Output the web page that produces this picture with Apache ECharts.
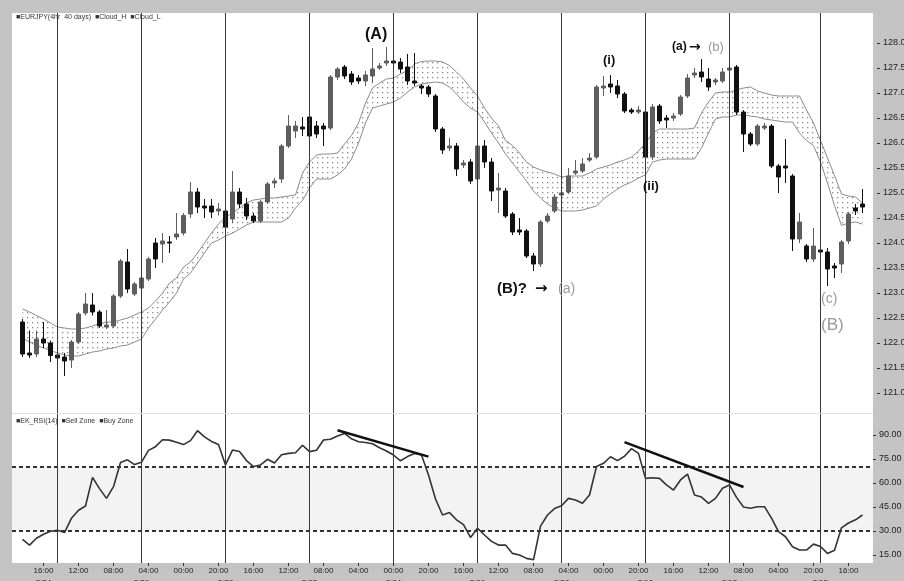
<!DOCTYPE html>
<html>
<head>
<meta charset="utf-8">
<script src="https://cdn.jsdelivr.net/npm/echarts@6/dist/echarts.min.js"></script>
<style>
html,body{margin:0;padding:0;background:#c4c4c4;}
#main{width:904px;height:581px;}
</style>
</head>
<body>
<div id="main"></div>
<script>
// 4h candles [open, close, low, high]
var candles = [
  [122.42,121.78,121.72,122.48],[121.80,121.76,121.70,122.25],[121.78,122.08,121.72,122.25],[122.08,122.00,121.90,122.42],
  [122.00,121.75,121.62,122.05],[121.76,121.70,121.60,121.85],[121.72,121.64,121.34,121.80],[121.66,122.02,121.50,122.06],
  [122.02,122.58,121.98,122.62],[122.60,122.78,122.55,123.00],[122.76,122.62,122.55,123.00],[122.62,122.34,122.30,122.66],
  [122.32,122.36,122.28,122.66],[122.34,122.94,122.30,122.98],[122.94,123.64,122.90,123.68],[123.62,123.08,123.00,123.88],
  [122.98,123.18,122.94,123.22],[123.10,123.30,123.06,123.34],[123.28,123.68,123.24,123.72],[124.00,123.68,123.50,124.10],
  [123.98,124.04,123.60,124.20],[124.02,124.00,123.80,124.14],[124.12,124.18,124.06,124.60],[124.20,124.55,124.15,124.60],
  [124.58,125.02,124.50,125.22],[125.02,124.72,124.60,125.10],[124.74,124.70,124.50,124.88],[124.74,124.62,124.50,124.88],
  [124.64,124.68,124.55,124.80],[124.64,124.32,124.28,124.68],[124.48,125.02,124.40,125.44],[125.02,124.78,124.70,125.10],
  [124.78,124.54,124.46,124.90],[124.54,124.44,124.40,124.60],[124.44,124.82,124.40,124.86],[124.82,125.18,124.78,125.22],
  [125.20,125.24,125.10,125.30],[125.28,125.94,125.20,125.98],[125.94,126.34,125.90,126.56],[126.24,126.34,126.10,126.44],
  [126.32,126.28,126.14,126.52],[126.52,126.14,126.00,126.60],[126.34,126.18,126.10,126.44],[126.34,126.28,125.94,126.40],
  [126.30,127.32,126.26,127.36],[127.32,127.48,127.26,127.52],[127.52,127.34,127.28,127.56],[127.38,127.22,127.16,127.44],
  [127.30,127.24,127.18,127.36],[127.24,127.36,127.14,127.44],[127.34,127.48,127.20,127.90],[127.50,127.54,127.46,127.60],
  [127.60,127.64,127.54,127.92],[127.64,127.60,127.54,127.70],[127.62,127.48,127.40,127.70],[127.52,127.24,127.16,127.78],
  [127.24,127.20,127.14,127.80],[127.14,127.10,126.98,127.18],[127.12,126.98,126.92,127.16],[126.94,126.28,126.22,126.98],
  [126.28,125.86,125.78,126.32],[125.90,125.94,125.84,126.10],[125.94,125.48,125.34,126.00],[125.56,125.60,125.50,125.66],
  [125.62,125.24,125.18,125.68],[125.28,125.94,125.20,126.20],[125.94,125.62,125.50,126.06],[125.62,125.04,124.84,125.70],
  [125.06,125.10,124.60,125.40],[125.04,124.54,124.50,125.10],[124.58,124.22,124.16,124.62],[124.26,124.22,124.16,124.50],
  [124.24,123.74,123.70,124.28],[123.74,123.58,123.44,123.80],[123.58,124.42,123.52,124.46],[124.44,124.54,124.40,124.60],
  [124.64,124.92,124.60,124.98],[124.96,125.00,124.90,125.08],[125.02,125.34,124.98,125.50],[125.40,125.44,125.36,125.66],
  [125.44,125.58,125.40,125.70],[125.66,125.70,125.62,125.80],[125.72,127.12,125.68,127.16],[127.10,127.14,126.94,127.34],
  [127.18,127.12,127.00,127.36],[127.14,126.98,126.90,127.26],[126.98,126.64,126.60,127.02],[126.66,126.62,126.58,126.70],
  [126.62,126.66,126.58,126.74],[126.62,125.72,125.66,126.80],[125.72,126.72,125.66,126.78],[126.74,126.44,126.38,126.78],
  [126.50,126.46,126.30,126.56],[126.50,126.54,126.44,126.60],[126.58,126.92,126.54,126.96],[126.94,127.30,126.90,127.38],
  [127.36,127.40,127.30,127.50],[127.42,127.32,127.22,127.68],[127.28,127.12,127.04,127.50],[127.22,127.26,127.16,127.30],
  [127.24,127.42,127.20,127.50],[127.46,127.50,127.40,127.56],[127.52,126.62,126.56,127.56],[126.62,126.18,125.82,126.66],
  [126.18,125.98,125.94,126.22],[125.98,126.34,125.94,126.38],[126.30,126.34,126.26,126.40],[126.34,125.54,125.50,126.38],
  [125.54,125.32,125.00,125.58],[125.54,125.50,125.20,126.08],[125.34,124.08,123.84,125.38],[124.08,124.42,124.00,124.60],
  [123.94,123.68,123.62,123.98],[123.68,123.94,123.62,124.30],[123.86,123.82,123.60,124.20],[123.82,123.48,123.14,123.90],
  [123.54,123.50,123.30,123.60],[123.58,124.02,123.40,124.06],[124.04,124.58,123.98,124.62],[124.70,124.64,124.56,124.78],
  [124.78,124.72,124.60,125.08]
];

var cloudH = [
  122.68,122.62,122.55,122.48,122.40,122.32,122.30,122.28,122.28,122.30,
  122.34,122.38,122.42,122.42,122.46,122.50,122.56,122.62,122.70,122.84,
  123.00,123.20,123.30,123.52,123.62,123.80,124.00,124.20,124.38,124.52,
  124.60,124.70,124.80,124.86,124.88,124.90,124.90,124.92,124.94,124.96,
  125.40,125.62,125.76,125.78,125.78,125.80,125.98,126.15,126.40,126.80,
  127.10,127.20,127.28,127.30,127.38,127.45,127.58,127.63,127.64,127.64,
  127.62,127.55,127.42,127.28,127.10,126.94,126.70,126.50,126.34,126.05,
  125.95,125.80,125.62,125.52,125.46,125.42,125.38,125.32,125.34,125.34,
  125.34,125.40,125.48,125.52,125.56,125.62,125.66,125.72,125.84,126.00,
  126.20,126.28,126.28,126.28,126.28,126.28,126.30,126.60,126.82,127.00,
  127.02,127.02,127.06,127.10,127.12,127.04,127.00,126.96,126.94,126.94,
  126.94,126.94,126.66,126.40,126.05,125.70,125.35,124.98,124.94,124.92,124.80
];

var cloudL = [
  122.10,122.02,121.95,121.90,121.85,121.80,121.76,121.74,121.74,121.78,
  121.82,121.84,121.88,121.90,121.94,121.96,122.02,122.08,122.30,122.48,
  122.66,122.82,123.00,123.28,123.40,123.60,123.80,124.00,124.06,124.14,
  124.20,124.28,124.36,124.42,124.42,124.42,124.42,124.42,124.50,124.70,
  124.85,125.10,125.28,125.28,125.28,125.36,125.48,125.68,126.00,126.40,
  126.70,126.74,126.78,126.82,126.90,127.02,127.12,127.18,127.20,127.22,
  127.20,127.12,126.98,126.82,126.70,126.62,126.42,126.20,126.00,125.78,
  125.60,125.42,125.24,125.04,124.90,124.78,124.70,124.64,124.64,124.64,
  124.66,124.70,124.74,124.88,124.98,125.08,125.16,125.22,125.30,125.36,
  125.62,125.66,125.68,125.68,125.68,125.68,125.68,125.90,126.20,126.48,
  126.52,126.52,126.56,126.56,126.54,126.52,126.48,126.46,126.44,126.42,
  126.42,126.20,126.05,125.95,125.62,125.20,124.75,124.35,124.40,124.42,124.38
];

var rsi = [
  24.8,21.2,25.5,28.0,29.8,30.4,29.0,38.0,43.0,45.6,
  63.5,56.5,50.4,57.7,72.8,74.5,71.5,73.0,80.4,82.7,
  87.0,86.8,85.5,84.0,86.5,92.7,88.8,86.0,84.0,71.3,
  80.6,79.7,74.0,70.3,71.3,74.8,72.5,77.6,78.5,78.9,
  83.6,79.6,80.5,86.9,87.3,89.4,91.0,87.6,85.8,85.3,
  84.5,82.0,80.0,77.5,73.9,76.5,78.4,77.5,65.0,50.0,
  40.0,41.5,37.0,34.0,26.0,31.7,27.5,23.5,21.2,21.2,
  16.0,15.0,12.9,12.0,33.0,40.0,44.0,45.8,50.4,49.4,
  47.3,52.5,70.3,72.3,76.4,74.0,76.7,81.5,78.5,62.9,
  63.3,62.9,58.8,55.6,61.9,65.6,52.5,51.2,47.3,50.4,
  56.7,58.8,51.0,45.0,44.2,45.2,45.2,38.0,29.6,26.4,
  20.2,18.1,18.1,21.8,20.3,16.0,18.0,32.0,35.0,37.0,40.0
];

var tickLabels = ['16:00','12:00','08:00','04:00','00:00','20:00','16:00','12:00','08:00','04:00','00:00','20:00',
                  '16:00','12:00','08:00','04:00','00:00','20:00','16:00','12:00','08:00','04:00','20:00','16:00'];
var tickStart = 3, tickStep = 5;
var dayLines = [5,17,29,41,53,65,77,89,101,114];
var dateIdx = [3,17,29,41,53,65,77,89,101,114];
var dateLabels = ['2/24','2/26','2/28','3/02','3/04','3/06','3/08','3/10','3/12','3/15'];
var priceTicks = [121,121.5,122,122.5,123,123.5,124,124.5,125,125.5,126,126.5,127,127.5,128];
var rsiTicks = [15,30,45,60,75,90];
var zoneLevels = [70,30];
var trendLines = [[[45,93.0],[58,76.5]],[[86,85.5],[103,57.5]]];

var off = 1; // empty slot in front so the first candle sits off the edge
var cats = [];
for (var i = 0; i < candles.length + 2; i++) cats.push(String(i));
function pad(arr, empty) { return [empty === undefined ? '-' : empty].concat(arr); }
var band = cloudH.map(function (v, k) { return +(v - cloudL[k]).toFixed(3); });

function isTick(idx) {
  var k = idx - off - tickStart;
  return k >= 0 && k % tickStep === 0 && k / tickStep < tickLabels.length;
}
function isDate(idx) { return dateIdx.indexOf(idx - off) >= 0; }

// dotted cloud fill
var pat = document.createElement('canvas');
pat.width = 5; pat.height = 5;
var ctx = pat.getContext('2d');
ctx.fillStyle = '#8a8a8a';
ctx.fillRect(2, 2, 1.3, 1.3);

var font = 'Liberation Sans';
var dayLineData = dayLines.map(function (d) {
  return { xAxis: d + off, lineStyle: { color: '#3a3a3a', width: 1, type: 'solid' } };
});
var rsiMarks = dayLineData.slice();
zoneLevels.forEach(function (z) {
  rsiMarks.push({ yAxis: z, lineStyle: { color: '#333', width: 2, type: [4, 3] } });
});
trendLines.forEach(function (t) {
  rsiMarks.push([{ coord: [t[0][0] + off, t[0][1]], lineStyle: { color: '#111', width: 2.5, type: 'solid' } },
                 { coord: [t[1][0] + off, t[1][1]] }]);
});

function label(txt, x, y, f, col) {
  return { type: 'text', x: x, y: y, silent: true, z: 100,
    style: { text: txt, font: f, fill: col || '#111', textAlign: 'left', textVerticalAlign: 'middle', align: 'left', verticalAlign: 'middle' } };
}

var chart = echarts.init(document.getElementById('main'));
var option = {
  animation: false,
  backgroundColor: '#c4c4c4',
  textStyle: { fontFamily: font },
  grid: [
    { left: 12, top: 13, width: 861, height: 400, show: true, backgroundColor: '#fff', borderWidth: 0, outerBoundsMode: 'none', containLabel: false },
    { left: 12, top: 414, width: 861, height: 149, show: true, backgroundColor: '#fff', borderWidth: 0, outerBoundsMode: 'none', containLabel: false }
  ],
  xAxis: [
    { type: 'category', gridIndex: 0, data: cats, boundaryGap: true, show: false },
    { type: 'category', gridIndex: 1, data: cats, boundaryGap: true,
      axisLine: { show: false },
      axisTick: { show: true, alignWithLabel: true, length: 3, interval: function (idx) { return isTick(idx); }, lineStyle: { color: '#333' } },
      axisLabel: { interval: function (idx) { return isTick(idx); }, margin: 4, fontSize: 8, color: '#222', fontFamily: font,
        formatter: function (v) { return tickLabels[(Number(v) - off - tickStart) / tickStep]; } },
      splitLine: { show: false } },
    { type: 'category', gridIndex: 1, data: cats, boundaryGap: true, position: 'bottom', offset: 14,
      axisLine: { show: false }, axisTick: { show: false },
      axisLabel: { interval: function (idx) { return isDate(idx); }, margin: 2, fontSize: 8, color: '#222', fontFamily: font,
        formatter: function (v) { return dateLabels[dateIdx.indexOf(Number(v) - off)]; } } }
  ],
  yAxis: [
    { type: 'value', gridIndex: 0, position: 'right', offset: 4, min: 120.6, max: 128.6,
      axisLine: { show: false }, splitLine: { show: false },
      axisTick: { show: true, length: 3, customValues: priceTicks, lineStyle: { color: '#333' } },
      axisLabel: { customValues: priceTicks, margin: 6, fontSize: 9, color: '#222', fontFamily: font,
        formatter: function (v) { return v.toFixed(2); } } },
    { type: 'value', gridIndex: 1, position: 'right', offset: 0, min: 10, max: 103.125,
      axisLine: { show: false }, splitLine: { show: false },
      axisTick: { show: true, length: 3, customValues: rsiTicks, lineStyle: { color: '#333' } },
      axisLabel: { customValues: rsiTicks, margin: 6, fontSize: 9, color: '#222', fontFamily: font,
        formatter: function (v) { return v.toFixed(2); } } }
  ],
  series: [
    { name: 'Cloud_L', type: 'line', xAxisIndex: 0, yAxisIndex: 0, data: pad(cloudL), stack: 'cloud',
      symbol: 'none', silent: true, z: 1, lineStyle: { color: '#8c8c8c', width: 1 } },
    { name: 'Cloud_H', type: 'line', xAxisIndex: 0, yAxisIndex: 0, data: pad(band), stack: 'cloud',
      symbol: 'none', silent: true, z: 1, lineStyle: { color: '#8c8c8c', width: 1 },
      areaStyle: { color: { image: pat, repeat: 'repeat' }, opacity: 1 } },
    { name: 'EURJPY', type: 'candlestick', xAxisIndex: 0, yAxisIndex: 0, data: pad(candles, ['-', '-', '-', '-']),
      barWidth: 5, z: 3,
      itemStyle: { color: '#5e5e5e', color0: '#111', borderColor: '#5e5e5e', borderColor0: '#111', borderWidth: 1 },
      markLine: { silent: true, symbol: ['none', 'none'], label: { show: false }, data: dayLineData } },
    { name: 'EK_RSI(14)', type: 'line', xAxisIndex: 1, yAxisIndex: 1, data: pad(rsi),
      symbol: 'none', z: 3, lineStyle: { color: '#333', width: 1.6 },
      markArea: { silent: true, itemStyle: { color: '#f3f3f3' }, data: [[{ yAxis: zoneLevels[1] }, { yAxis: zoneLevels[0] }]] },
      markLine: { silent: true, symbol: ['none', 'none'], label: { show: false }, data: rsiMarks } }
  ],
  graphic: [
    { type: 'rect', x: 12, y: 413, shape: { width: 861, height: 1 }, style: { fill: '#e0e0e0' }, silent: true },
    label('\u25A0EURJPY(4hr  40 days)  \u25A0Cloud_H  \u25A0Cloud_L', 16, 17, '7px ' + font, '#333'),
    label('\u25A0EK_RSI(14)  \u25A0Sell Zone  \u25A0Buy Zone', 16, 421, '7px ' + font, '#333'),
    label('(A)', 365, 35, 'bold 16px ' + font),
    label('(B)?', 497, 289, 'bold 15px ' + font),
    label('\u2192', 535, 289, 'bold 15px DejaVu Sans'),
    label('(a)', 558, 289, '14px ' + font, '#9a9a9a'),
    label('(i)', 603, 60, 'bold 13px ' + font),
    label('(a)', 672, 47, 'bold 12px ' + font),
    label('\u2192', 689, 47, 'bold 14px DejaVu Sans'),
    label('(b)', 708, 47, '13px ' + font, '#9a9a9a'),
    label('(ii)', 643, 186, 'bold 13px ' + font),
    label('(c)', 821, 299, '14px ' + font, '#9a9a9a'),
    label('(B)', 821, 325, '17px ' + font, '#9a9a9a')
  ]
};
chart.setOption(option);
</script>
</body>
</html>
